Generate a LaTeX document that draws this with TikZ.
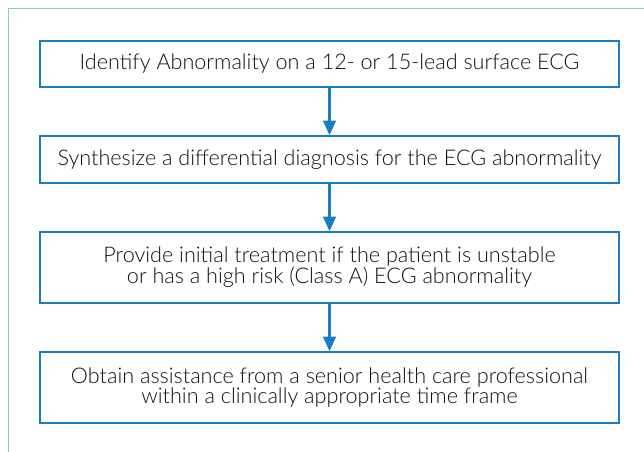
\documentclass[tikz,border=0pt]{standalone}
\usepackage{fontspec}
\setmainfont{Lato Light}
\usetikzlibrary{arrows.meta}
\definecolor{frameg}{HTML}{7FD3B8}
\definecolor{boxblue}{HTML}{1A7DC0}
\definecolor{txt}{HTML}{111111}
\begin{document}
\begin{tikzpicture}[x=0.75pt,y=-0.75pt,
  box/.style={draw=boxblue, line width=1.1pt, fill=white, text=txt,
    minimum width=434.25pt, inner sep=0pt, align=center,
    font=\fontsize{16.2}{15.6}\selectfont},
  flow/.style={draw=boxblue, line width=1.9pt,
    -{Triangle[length=11pt,width=9.5pt]}}]
\useasboundingbox (0,0) rectangle (644,452);
\draw[frameg, line width=1.1pt] (8.5,452) -- (8.5,8.5) -- (644,8.5);
\node[box, minimum height=34.5pt] (b1) at (329.5,64) {Identify Abnormality on a 12- or 15-lead surface ECG};
\node[box, minimum height=35.25pt] (b2) at (329.5,159.5) {Synthesize a differential diagnosis for the ECG abnormality};
\node[box, minimum height=53.25pt] (b3) at (329.5,267.5) {Provide initial treatment if the patient is unstable\\or has a high risk (Class A) ECG abnormality};
\node[box, minimum height=53.25pt] (b4) at (329.5,387.5) {Obtain assistance from a senior health care professional\\within a clinically appropriate time frame};
\draw[flow] (b1.south) -- (b2.north);
\draw[flow] (b2.south) -- (b3.north);
\draw[flow] (b3.south) -- (b4.north);
\end{tikzpicture}
\end{document}
